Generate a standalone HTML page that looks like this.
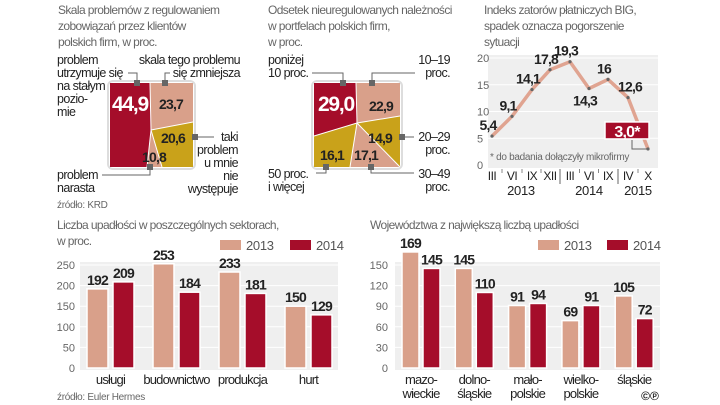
<!DOCTYPE html>
<html><head><meta charset="utf-8">
<style>
html,body{margin:0;padding:0;background:#fff;}
svg{display:block;font-family:"Liberation Sans",sans-serif;}
.ttl{font-size:12px;fill:#666;letter-spacing:-0.6px;}
.lbl{font-size:12.5px;fill:#222;letter-spacing:-0.6px;}
.tick{font-size:11px;fill:#666;}
.val{font-size:14px;font-weight:bold;fill:#222;letter-spacing:-0.8px;}
.src{font-size:10px;fill:#666;letter-spacing:-0.3px;}
.cat{font-size:13px;fill:#222;letter-spacing:-0.8px;}
</style></head>
<body>
<svg id="s" width="720" height="405" viewBox="0 0 720 405">
<g>
<text class="ttl" x="58" y="14">Skala problemów z regulowaniem</text>
<text class="ttl" x="58" y="30">zobowiązań przez klientów</text>
<text class="ttl" x="58" y="46">polskich firm, w proc.</text>
<rect x="108" y="81" width="87" height="88" rx="5" fill="#fff" stroke="#ddd" stroke-width="2"/>
<polygon points="110,83 150,83 151,130 147,167 110,167" fill="#a50d2a"/>
<polygon points="150,83 193,83 193,122 151,130" fill="#d9a08a"/>
<polygon points="151,130 193,122 193,167 162,167" fill="#c9a21a"/>
<polygon points="151,130 162,167 147,167" fill="#d9a08a"/>
<g stroke="#fff" stroke-width="1" fill="none"><polyline points="150,83 151,130 147,167"/><polyline points="193,122 151,130 162,167"/></g>
<text x="130" y="111" font-size="21" font-weight="bold" fill="#fff" text-anchor="middle" letter-spacing="-1.2">44,9</text>
<text class="val" x="171" y="109" text-anchor="middle">23,7</text>
<text class="val" x="173" y="143" text-anchor="middle">20,6</text>
<text class="val" x="154" y="162" text-anchor="middle">10,8</text>
<g class="lbl">
<text x="57" y="64">problem</text><text x="57" y="77">utrzymuje się</text><text x="57" y="90">na stałym</text><text x="57" y="103">pozio-</text><text x="57" y="116">mie</text>
<text x="240" y="64" text-anchor="end">skala tego problemu</text><text x="240" y="77" text-anchor="end">się zmniejsza</text>
<text x="57" y="179">problem</text><text x="57" y="192">narasta</text>
<text x="238" y="141" text-anchor="end">taki</text><text x="238" y="154" text-anchor="end">problem</text><text x="238" y="167" text-anchor="end">u mnie</text><text x="238" y="180" text-anchor="end">nie</text><text x="238" y="193" text-anchor="end">występuje</text>
</g>
<g stroke="#666" fill="none" stroke-width="1">
<polyline points="128,73 137,73 137,83"/><polyline points="170,73 165,73 165,83"/><polyline points="195,137 214,137"/><polyline points="102,175 150,175 150,167"/>
</g>
<g fill="#666"><rect x="134" y="80" width="6" height="6"/><rect x="162" y="80" width="6" height="6"/><rect x="192" y="134" width="6" height="6"/><rect x="147" y="164" width="6" height="6"/></g>
<text class="src" x="57" y="208">źródło: KRD</text>
</g>
<g>
<text class="ttl" x="268" y="14">Odsetek nieuregulowanych należności</text>
<text class="ttl" x="268" y="30">w portfelach polskich firm,</text>
<text class="ttl" x="268" y="46">w proc.</text>
<rect x="312" y="81" width="90" height="88" rx="5" fill="#fff" stroke="#ddd" stroke-width="2"/>
<polygon points="314,83 356,83 357,123 314,136" fill="#a50d2a"/>
<polygon points="356,83 400,83 400,116 357,123" fill="#d9a08a"/>
<polygon points="357,123 400,116 400,167" fill="#c9a21a"/>
<polygon points="357,123 400,167 350,167" fill="#d9a08a"/>
<polygon points="314,136 357,123 350,167 314,167" fill="#c9a21a"/>
<g stroke="#fff" fill="none"><polyline points="314,136 357,123 400,116"/><polyline points="356,83 357,123 400,167"/><polyline points="357,123 350,167"/></g>
<text x="336" y="111" font-size="21" font-weight="bold" fill="#fff" text-anchor="middle" letter-spacing="-1.2">29,0</text>
<text class="val" x="381" y="111" text-anchor="middle">22,9</text>
<text class="val" x="380" y="143" text-anchor="middle">14,9</text>
<text class="val" x="332" y="160" text-anchor="middle">16,1</text>
<text class="val" x="366" y="160" text-anchor="middle">17,1</text>
<g class="lbl">
<text x="268" y="64">poniżej</text><text x="268" y="77">10 proc.</text>
<text x="450" y="64" text-anchor="end">10–19</text><text x="450" y="77" text-anchor="end">proc.</text>
<text x="450" y="141" text-anchor="end">20–29</text><text x="450" y="154" text-anchor="end">proc.</text>
<text x="268" y="178">50 proc.</text><text x="268" y="191">i więcej</text>
<text x="450" y="178" text-anchor="end">30–49</text><text x="450" y="191" text-anchor="end">proc.</text>
</g>
<g stroke="#666" fill="none"><polyline points="312,73 343,73 343,83"/><polyline points="415,73 372,73 372,83"/><polyline points="402,137 414,137"/><polyline points="316,173 326,173 326,167"/><polyline points="371,167 371,173 414,173"/></g>
<g fill="#666"><rect x="340" y="80" width="6" height="6"/><rect x="369" y="80" width="6" height="6"/><rect x="399" y="134" width="6" height="6"/><rect x="323" y="164" width="6" height="6"/><rect x="368" y="164" width="6" height="6"/></g>
</g>
<g id="c3">
<text class="ttl" x="484" y="14">Indeks zatorów płatniczych BIG,</text>
<text class="ttl" x="484" y="30">spadek oznacza pogorszenie</text>
<text class="ttl" x="484" y="46">sytuacji</text>
<rect x="488" y="55" width="170" height="113" fill="#efefef"/>
</g>
<g id="c4">
<text class="ttl" x="57" y="229">Liczba upadłości w poszczególnych sektorach,</text>
<text class="ttl" x="57" y="245">w proc.</text>
<rect x="80" y="262" width="258" height="108" fill="#efefef"/>
<text class="src" x="57" y="400">źródło: Euler Hermes</text>
</g>
<g id="c5">
<text class="ttl" x="370" y="229">Województwa z największą liczbą upadłości</text>
<rect x="395" y="262" width="265" height="108" fill="#efefef"/>
<text x="650" y="400" font-size="12" font-weight="bold" fill="#222" text-anchor="middle">©℗</text>
</g>
</svg>
<script>
const NS="http://www.w3.org/2000/svg";
const bigLabels=["III","VI","IX","XII","III","VI","IX","IV","X"];
const bigValues=[5.4,9.1,14.1,17.8,19.3,14.3,16,12.6,3.0];
const bigValueText=["5,4","9,1","14,1","17,8","19,3","14,3","16","12,6","3,0*"];
const bigTicks=[0,5,10,15,20];
const sectorCats=["usługi","budownictwo","produkcja","hurt"];
const sector2013=[192,253,233,150];
const sector2014=[209,184,181,129];
const sectorTicks=[0,50,100,150,200,250];
const regionCats=[["mazo-","wieckie"],["dolno-","śląskie"],["mało-","polskie"],["wielko-","polskie"],["śląskie"]];
const region2013=[169,145,91,69,105];
const region2014=[145,110,94,91,72];
const regionTicks=[0,30,60,90,120,150];

function mk(p,tag,a,txt){const e=document.createElementNS(NS,tag);for(const k in a)e.setAttribute(k,a[k]);if(txt!==undefined)e.textContent=txt;p.appendChild(e);return e;}

(function(){
const g=document.getElementById('c3');
const y=v=>165-v*5.35;
const xs=[492,512,532,550,570,589,608,628,648];
const x=i=>xs[i];
bigTicks.forEach(t=>{
  if(t>0){const l=mk(g,'line',{x1:488,x2:658,y1:y(t),y2:y(t),stroke:'#fff','stroke-width':1});
  
  }
  const tx=mk(g,'text',{x:477,y:y(t)+4,class:'tick'},t);
  
  
});
const note=mk(g,'text',{x:490,y:160,'font-size':10,fill:'#666','letter-spacing':'-0.3'},'* do badania dołączyły mikrofirmy');


const pts=bigValues.map((v,i)=>x(i)+','+y(v)).join(' ');
const line=mk(g,'polyline',{points:pts,fill:'none',stroke:'#e0a491','stroke-width':3.5,'stroke-linejoin':'round'});


bigValues.forEach((v,i)=>{
  const c=mk(g,'circle',{cx:x(i),cy:y(v),r:1.6,fill:'#666'});
  
  
  const last=i===bigValues.length-1;
  const below=(i===5);
  if(last){
    const r=mk(g,'rect',{x:x(i)-43,y:y(v)-27,width:44,height:17,fill:'#a50d2a',stroke:'#fff','stroke-width':1.5});
    
    
    mk(g,'polyline',{points:`${x(i)-16},${y(v)-9} ${x(i)-16},${y(v)} ${x(i)},${y(v)}`,fill:'none',stroke:'#666'});
    const t=mk(g,'text',{x:x(i)-21,y:y(v)-12,'font-size':16,'font-weight':'bold',fill:'#fff','text-anchor':'middle','letter-spacing':'-0.8'},bigValueText[i]);
    
    
  } else {
    const ty=below?y(v)+17:y(v)-6;
    const dx=i===7?2:-4;
    const t=mk(g,'text',{x:x(i)+dx,y:ty,class:'val','text-anchor':'middle'},bigValueText[i]);
    
    
  }
  const xl=mk(g,'text',{x:x(i),y:180,'font-size':12,fill:'#222','text-anchor':'middle','letter-spacing':'-0.5'},bigLabels[i]);
  
  
  if(i<bigValues.length-1 && i!==3 && i!==6) mk(g,'line',{x1:(x(i)+x(i+1))/2,x2:(x(i)+x(i+1))/2,y1:169,y2:173,stroke:'#888'});
});
[[560,184],[618,184]].forEach(s=>mk(g,'line',{x1:s[0],x2:s[0],y1:169,y2:s[1],stroke:'#666'}));
[["2013",521],["2014",589],["2015",638]].forEach(a=>{const t=mk(g,'text',{x:a[1],y:195,'font-size':13,fill:'#222','text-anchor':'middle','letter-spacing':'-0.3'},a[0]);

});
})();

function bars(id,cats,s1,s2,ticks,max,cfg){
  const g=document.getElementById(id);
  const y=v=>368-v*(103/max);
  ticks.forEach(t=>{
    if(t>0){const l=mk(g,'line',{x1:cfg.x0,x2:cfg.x1,y1:y(t),y2:y(t),stroke:'#fff'});
    
    }
    const tx=mk(g,'text',{x:cfg.tx,y:y(t)+4,class:'tick','text-anchor':'end'},t);
    
    
  });
  cats.forEach((c,i)=>{
    const gx=cfg.g0+i*cfg.step;
    [[s1,'#d9a08a',0],[s2,'#a50d2a',1]].forEach(([s,col,k])=>{
      const bx=gx+k*(cfg.bw+cfg.gap);
      const r=mk(g,'rect',{x:bx,y:y(s[i]),width:cfg.bw,height:y(0)-y(s[i]),fill:col,stroke:'#fff','stroke-width':1.5});
      
      
      const t=mk(g,'text',{x:bx+cfg.bw/2,y:y(s[i])-4,class:'val','text-anchor':'middle','font-size':15},s[i]);
      
      
    });
    const cx=gx+cfg.bw+cfg.gap/2;
    const lines=Array.isArray(c)?c:[c];
    lines.forEach((ln,j)=>{const t=mk(g,'text',{x:cx,y:384+j*14,class:'cat','text-anchor':'middle'},ln);
    
    });
  });
  [['2013','#d9a08a',cfg.l1],['2014','#a50d2a',cfg.l2]].forEach(([n,col,lx])=>{
    const r=mk(g,'rect',{x:lx,y:240,width:21,height:10,fill:col});
    
    
    const t=mk(g,'text',{x:lx+26,y:250,'font-size':13,fill:'#555','letter-spacing':'-0.3'},n);
    
    
  });
}
bars('c4',sectorCats,sector2013,sector2014,sectorTicks,250,{x0:80,x1:338,tx:75,g0:87,step:66,bw:21,gap:5,l1:220,l2:290});
bars('c5',regionCats,region2013,region2014,regionTicks,150,{x0:395,x1:660,tx:388,g0:402,step:53.3,bw:17,gap:4,l1:538,l2:607});
</script>
</body></html>
